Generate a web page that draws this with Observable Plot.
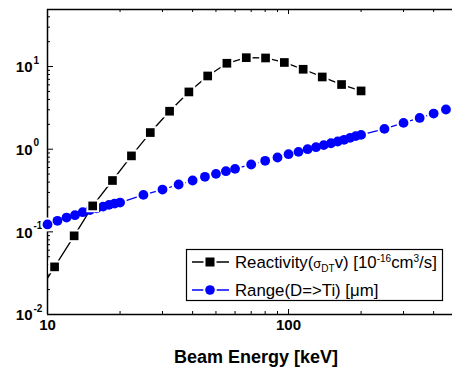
<!DOCTYPE html>
<html>
<head>
<meta charset="utf-8">
<script src="https://cdn.jsdelivr.net/npm/d3@7"></script>
<script src="https://cdn.jsdelivr.net/npm/@observablehq/plot@0.6"></script>
<style>
  html, body { margin: 0; padding: 0; background: #fff; }
  #chart { width: 452px; height: 372px; }
  svg { display: block; }
</style>
</head>
<body>
<div id="chart"></div>
<script>
// ---- data ----
const reactE = [8.9, 10.7, 12.9, 15.4, 18.6, 22.3, 26.7, 32.1, 38.6, 46.2, 55.5, 66.8, 80.3, 96.1, 115, 138, 166, 200];
const reactV = [0.016, 0.0377, 0.0895, 0.206, 0.418, 0.83, 1.59, 2.88, 4.93, 7.69, 10.96, 12.8, 12.7, 11.2, 9.27, 7.48, 6.06, 5.07];
const rangeE = [10, 11, 12, 13, 14, 15, 16, 17, 18, 19, 20, 25, 30, 35, 40, 45, 50, 55, 60, 70, 80, 90, 100, 110, 120, 130, 140, 150, 160, 170, 180, 190, 200, 250, 300, 350, 400, 450];
const rangeV = [0.123, 0.136, 0.149, 0.159, 0.173, 0.183, 0.193, 0.202, 0.212, 0.220, 0.226, 0.280, 0.325, 0.374, 0.418, 0.463, 0.503, 0.542, 0.578, 0.653, 0.723, 0.793, 0.870, 0.929, 1.0, 1.057, 1.12, 1.18, 1.24, 1.30, 1.37, 1.44, 1.49, 1.76, 2.08, 2.39, 2.70, 3.02];
const xDomain = [10, 479];
const yDomain = [0.01, 49];
const xMajor = [10, 100];
const xMinor = [20, 30, 40, 50, 60, 70, 80, 90, 200, 300, 400];
const yExp = [-2, -1, 0, 1];
const yMinor = [0.02,0.03,0.04,0.05,0.06,0.07,0.08,0.09,0.2,0.3,0.4,0.5,0.6,0.7,0.8,0.9,2,3,4,5,6,7,8,9,20,30,40];
const xTitle = "Beam Energy [keV]";

const react = reactE.map((x, i) => ({x, y: reactV[i]}));
const range = rangeE.map((x, i) => ({x, y: rangeV[i]}));

const W = 452, H = 372, mL = 47, mR = 0, mT = 9, mB = 58;
const PW = W - mL - mR, PH = H - mT - mB;
const font = "Liberation Sans, Arial, Helvetica, sans-serif";
const BLUE = "#0000ff";

const plot = Plot.plot({
  width: W, height: H,
  marginLeft: mL, marginRight: mR, marginTop: mT, marginBottom: mB,
  style: {fontFamily: font, background: "white", overflow: "visible"},
  x: {type: "log", domain: xDomain, axis: null},
  y: {type: "log", domain: yDomain, axis: null},
  marks: [
    Plot.ruleX([xDomain[0]], {stroke: "black", strokeWidth: 1.5}),
    Plot.ruleY([yDomain[0]], {stroke: "black", strokeWidth: 1.5}),
    Plot.ruleY([yDomain[1]], {stroke: "black", strokeWidth: 1.5}),
    Plot.tickX(xMajor, {x: d => d, insetTop: PH - 5, stroke: "black", strokeWidth: 1}),
    Plot.tickX(xMinor, {x: d => d, insetTop: PH - 3, stroke: "black", strokeWidth: 1}),
    Plot.tickX(xMajor, {x: d => d, insetBottom: PH - 5, stroke: "black", strokeWidth: 1}),
    Plot.tickX(xMinor, {x: d => d, insetBottom: PH - 3, stroke: "black", strokeWidth: 1}),
    Plot.tickY(yExp, {y: d => Math.pow(10, d), insetRight: PW - 6, stroke: "black", strokeWidth: 1}),
    Plot.tickY(yMinor, {y: d => d, insetRight: PW - 3, stroke: "black", strokeWidth: 1}),
    Plot.text(yExp, {y: d => Math.pow(10, d), text: () => "10", frameAnchor: "left", dx: -15, dy: 1,
      textAnchor: "end", fontSize: 15, fontWeight: "bold", fill: "black"}),
    Plot.text(yExp, {y: d => Math.pow(10, d), text: d => String(d), frameAnchor: "left", dx: -14, dy: -6,
      textAnchor: "start", fontSize: 10, fontWeight: "bold", fill: "black"}),
    Plot.text(xMajor, {x: d => d, text: d => String(d), frameAnchor: "bottom", dy: 15,
      fontSize: 15, fontWeight: "bold", fill: "black"}),
    Plot.text([xTitle], {text: d => d, frameAnchor: "bottom", dx: 6, dy: 48,
      fontSize: 18, fontWeight: "bold", fill: "black"}),
    Plot.line(range, {x: "x", y: "y", stroke: BLUE, strokeWidth: 1.3, clip: true}),
    Plot.dot(range, {x: "x", y: "y", r: 7, fill: "white", stroke: "none"}),
    Plot.line(react, {x: "x", y: "y", stroke: "black", strokeWidth: 1.3, clip: true}),
    Plot.dot(range, {x: "x", y: "y", r: 4.9, fill: BLUE, stroke: "none"}),
    Plot.dot(react, {x: "x", y: "y", filter: d => d.x >= xDomain[0], symbol: "square", r: 4.9,
      fill: "black", stroke: "white", strokeWidth: 4, paintOrder: "stroke"})
  ]
});
document.getElementById("chart").appendChild(plot);

// ---- legend (inside plot area) ----
const svg = d3.select(plot);
const lg = svg.append("g").attr("font-family", font).attr("text-anchor", "start");
const bx = 186.5, by = 249.5, bw = 256, bh = 51;
lg.append("rect").attr("x", bx).attr("y", by).attr("width", bw).attr("height", bh)
  .attr("fill", "white").attr("stroke", "black").attr("stroke-width", 1.2);
const rows = [
  {y: 262, color: "black", sym: "square"},
  {y: 290, color: BLUE, sym: "circle"}
];
rows.forEach(r => {
  lg.append("line").attr("x1", 192).attr("x2", 229).attr("y1", r.y).attr("y2", r.y)
    .attr("stroke", r.color).attr("stroke-width", 1.3);
  if (r.sym === "square") {
    lg.append("rect").attr("x", 210 - 4.5).attr("y", r.y - 4.5).attr("width", 9).attr("height", 9)
      .attr("fill", "black").attr("stroke", "white").attr("stroke-width", 4).attr("paint-order", "stroke");
  } else {
    lg.append("circle").attr("cx", 210).attr("cy", r.y).attr("r", 6.8).attr("fill", "white");
    lg.append("circle").attr("cx", 210).attr("cy", r.y).attr("r", 4.8).attr("fill", BLUE);
  }
});
const t1 = lg.append("text").attr("x", 235).attr("y", 262).attr("dy", "0.36em")
  .attr("font-size", 16.8).attr("fill", "black");
t1.append("tspan").text("Reactivity(");
t1.append("tspan").attr("font-size", 13).text("σ");
t1.append("tspan").attr("font-size", 10).attr("dy", 4).text("DT");
t1.append("tspan").attr("dy", -4).text("v) [10");
t1.append("tspan").attr("font-size", 10).attr("dy", -6).text("-16");
t1.append("tspan").attr("dy", 6).text("cm");
t1.append("tspan").attr("font-size", 10).attr("dy", -6).text("3");
t1.append("tspan").attr("dy", 6).text("/s]");
const t2 = lg.append("text").attr("x", 235).attr("y", 290).attr("dy", "0.36em")
  .attr("font-size", 16.8).attr("fill", "black");
t2.append("tspan").text("Range(D=>Ti) [");
t2.append("tspan").text("μm]");
</script>
</body>
</html>
